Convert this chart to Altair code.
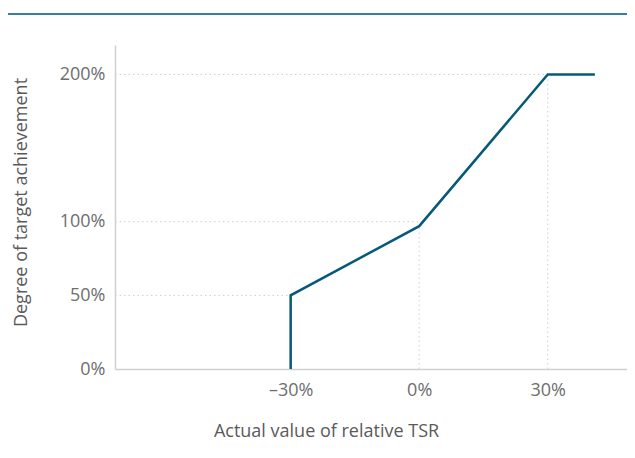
import altair as alt
import pandas as pd

# Data
tsr = [-30, -30, 0, 30, 41]
achievement = [0, 50, 97, 200, 200]

# reference (dotted) guide lines
h_ref_y = [50, 100, 200]
h_ref_x_end = [-30, 0, 30]
v_ref_x = [0, 30]
v_ref_y_end = [97, 200]

y_ticks = [0, 50, 100, 200]
x_ticks = [-30, 0, 30]

X_MIN, X_MAX = -71, 48.5
Y_MIN, Y_MAX = 0, 220

line_df = pd.DataFrame({"x": tsr, "y": achievement, "order": list(range(len(tsr)))})
href_df = pd.DataFrame({"x": [X_MIN] * len(h_ref_y), "x2": h_ref_x_end, "y": h_ref_y})
vref_df = pd.DataFrame({"x": v_ref_x, "y": [0] * len(v_ref_x), "y2": v_ref_y_end})

FONT = "Open Sans"
LINE_COLOR = "#065a78"

xscale = alt.Scale(domain=[X_MIN, X_MAX], nice=False, zero=False)
yscale = alt.Scale(domain=[Y_MIN, Y_MAX], nice=False)

x_axis = alt.Axis(
    values=x_ticks, labelExpr="datum.value == 0 ? '0%' : (datum.value < 0 ? '–' + abs(datum.value) + '%' : datum.value + '%')",
    grid=False, ticks=False, domain=True, domainColor="#d0d0d0", domainWidth=1.5,
    labelFont=FONT, labelFontSize=18, labelColor="#6e6e6e", labelPadding=12,
    title="Actual value of relative TSR", titleFont=FONT, titleFontSize=18,
    titleFontWeight="normal", titleColor="#5a5a5a",
    titleX=211, titleY=62, titleAlign="center", titleBaseline="middle", titleAnchor="start",
)
y_axis = alt.Axis(
    values=y_ticks, labelExpr="datum.value + '%'",
    grid=False, ticks=False, domain=True, domainColor="#d0d0d0", domainWidth=1.5,
    labelFont=FONT, labelFontSize=18, labelColor="#6e6e6e", labelPadding=10,
    title="Degree of target achievement", titleFont=FONT, titleFontSize=18,
    titleFontWeight="normal", titleColor="#5a5a5a",
    titleX=-94, titleY=157, titleAlign="center", titleBaseline="middle", titleAnchor="start",
)

hrefs = alt.Chart(href_df).mark_rule(color="#cfcfcf", strokeDash=[1.5, 3], strokeWidth=1).encode(
    x=alt.X("x:Q", scale=xscale, axis=x_axis),
    x2="x2:Q",
    y=alt.Y("y:Q", scale=yscale, axis=y_axis),
)
vrefs = alt.Chart(vref_df).mark_rule(color="#cfcfcf", strokeDash=[1.5, 3], strokeWidth=1).encode(
    x=alt.X("x:Q", scale=xscale),
    y=alt.Y("y:Q", scale=yscale),
    y2="y2:Q",
)
line = alt.Chart(line_df).mark_line(color=LINE_COLOR, strokeWidth=2.5, clip=False).encode(
    x=alt.X("x:Q", scale=xscale),
    y=alt.Y("y:Q", scale=yscale),
    order="order:Q",
)
top_rule = alt.Chart(pd.DataFrame({"a": [0]})).mark_rule(color="#35809c", strokeWidth=2).encode(
    x=alt.value(-107), x2=alt.value(512), y=alt.value(-31)
)

chart = alt.layer(hrefs, vrefs, line, top_rule).properties(
    width=512, height=324,
    autosize=alt.AutoSizeParams(type="none"),
    padding={"left": 107, "top": 37, "right": 0, "bottom": 76},
).configure_view(stroke=None)

chart.save("out.html", embed_options={"renderer": "svg", "actions": False})
